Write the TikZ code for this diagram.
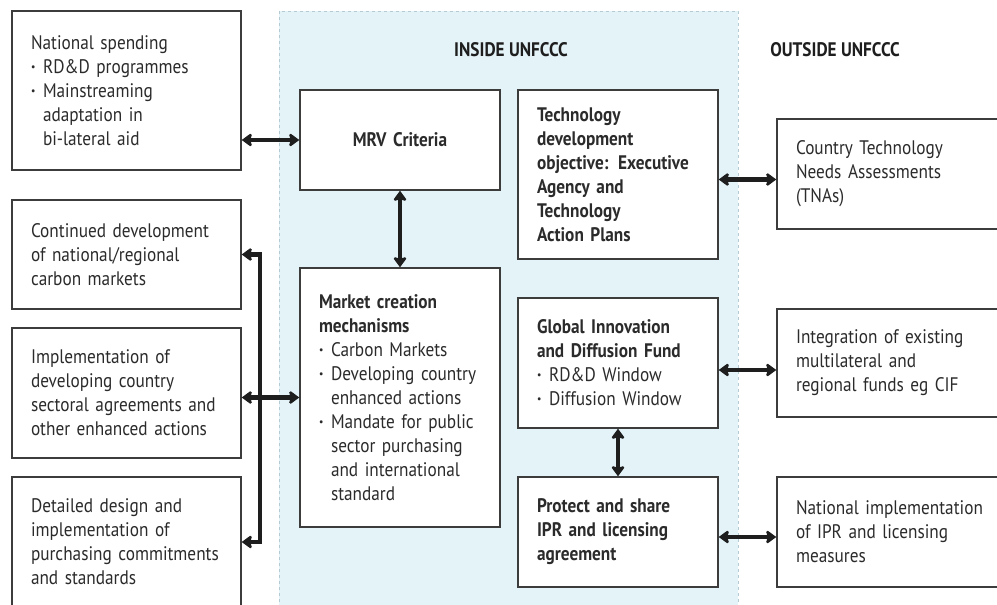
\documentclass[tikz,border=0pt]{standalone}
\usepackage{fontspec}
\setmainfont{PT Sans}[FakeStretch=0.88]
\usepackage{xcolor}
\usetikzlibrary{positioning,calc,arrows.meta}

\definecolor{insidebg}{HTML}{E4F3F8}
\definecolor{insideline}{HTML}{B5CBD4}
\definecolor{boxline}{HTML}{3C3C3C}
\definecolor{txt}{HTML}{2B2B2B}
\definecolor{arrowcol}{HTML}{1E1E1E}

\newcommand{\boxfont}{\fontsize{19.6}{24}\selectfont\hyphenpenalty=10000\exhyphenpenalty=10000}
\newcommand{\bul}{\makebox[12pt][l]{\textbf{·}}}
\newcommand{\ind}{\hspace*{12pt}}

\begin{document}
\begin{tikzpicture}[x=1pt, y=-1pt,
    box/.style={draw=boxline, line width=1.4pt, fill=white, align=left, inner xsep=19pt, inner ysep=0pt, text=txt, font=\boxfont},
    leftbox/.style={box, text width=191pt},
    midbox/.style={box, text width=162pt},
    rightbox/.style={box, text width=202pt},
    header/.style={font=\boxfont\bfseries, text=arrowcol},
    dbl/.style={{Stealth[length=11pt, width=16pt, inset=2.5pt]}-{Stealth[length=11pt, width=16pt, inset=2.5pt]}, line width=4.2pt, draw=arrowcol, miter limit=2}]
    \useasboundingbox (0,0) rectangle (997,605);
    \clip (0,0) rectangle (997,605);
    \fill [insidebg] (279,11) rectangle (738,620); % Inside UNFCCC region
    \draw [insideline, dashed, line width=1pt] (279,620) -- (279,11) -- (738,11) -- (738,620);
    \node [header] (inside) at (511,50) {INSIDE UNFCCC};
    \node [header] (outside) at (835,50) {OUTSIDE UNFCCC};

    % left column
    \node [leftbox, minimum height=159pt] (nat) at (126.5,90.5) {National spending\\ \bul RD\&D programmes\\ \bul Mainstreaming\\ \ind adaptation in\\ \ind bi-lateral aid};
    \node [leftbox, minimum height=109pt] (carb) at (126.5,254.5) {Continued development\\ of national/regional\\ carbon markets};
    \node [leftbox, minimum height=130pt] (sect) at (126.5,393) {Implementation of\\ developing country\\ sectoral agreements and\\ other enhanced actions};
    \node [leftbox, minimum height=130pt] (purch) at (126.5,542) {Detailed design and\\ implementation of\\ purchasing commitments\\ and standards};

    % inside UNFCCC
    \node [midbox, align=center, minimum height=100pt] (mrv) at (400,140) {\textbf{MRV Criteria}};
    \node [midbox, minimum height=259pt] (market) at (400,397.5) {\textbf{Market creation}\\ \textbf{mechanisms}\\ \bul Carbon Markets\\ \bul Developing country\\ \ind enhanced actions\\ \bul Mandate for public\\ \ind sector purchasing\\ \ind and international\\ \ind standard};
    \node [midbox, minimum height=169pt] (tech) at (618,174.5) {\textbf{Technology}\\ \textbf{development}\\ \textbf{objective: Executive}\\ \textbf{Agency and}\\ \textbf{Technology}\\ \textbf{Action Plans}};
    \node [midbox, minimum height=130pt] (gidf) at (618,363) {\textbf{Global Innovation}\\ \textbf{and Diffusion Fund}\\ \bul RD\&D Window\\ \bul Diffusion Window};
    \node [midbox, minimum height=110pt] (ipr) at (618,532) {\textbf{Protect and share}\\ \textbf{IPR and licensing}\\ \textbf{agreement}};

    % outside UNFCCC
    \node [rightbox, minimum height=110pt] (tna) at (897,174) {Country Technology\\ Needs Assessments\\ (TNAs)};
    \node [rightbox, minimum height=108pt] (integ) at (897,363) {Integration of existing\\ multilateral and\\ regional funds eg CIF};
    \node [rightbox, minimum height=110pt] (natimpl) at (897,532) {National implementation\\ of IPR and licensing\\ measures};

    % connectors
    \coordinate (bus) at (260,0);
    \draw [dbl] (mrv.west -| nat.east) -- (mrv.west);
    \draw [dbl] (mrv.south) -- (market.north);
    \draw [dbl] (carb.east) -- (carb.east -| bus) -- (purch.east -| bus) -- (purch.east);
    \draw [dbl] (market.west -| sect.east) -- (market.west);
    \draw [dbl] ($(tech.east)+(0,5)$) -- ($(tech.east -| tna.west)+(0,5)$);
    \draw [dbl] ($(gidf.east)+(0,7)$) -- ($(gidf.east -| integ.west)+(0,7)$);
    \draw [dbl] (gidf.south) -- (ipr.north);
    \draw [dbl] ($(ipr.east)+(0,5)$) -- ($(ipr.east -| natimpl.west)+(0,5)$);
\end{tikzpicture}
\end{document}
